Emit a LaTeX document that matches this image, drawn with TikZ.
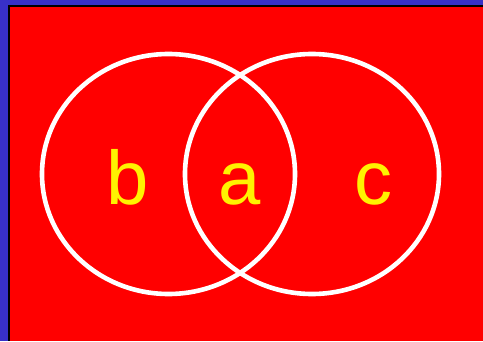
\documentclass[tikz,border=0pt]{standalone}
\usepackage{fontspec}
\setmainfont{Liberation Sans}
\definecolor{bandblue}{RGB}{56,48,200}
\begin{document}
\begin{tikzpicture}[x=1pt,y=1pt,
  setring/.style={draw=white,line width=4.6pt},
  setlabel/.style={text=yellow,font=\fontsize{76}{76}\selectfont,anchor=base,inner sep=0pt}]
\useasboundingbox (0,0) rectangle (483,341);
\fill[bandblue] (0,0) rectangle (483,341);
\fill[black] (8,0) rectangle (483,336.3);
\fill[red] (10,0) rectangle (483,334.3);
\draw[setring] (168.5,167) ellipse [x radius=126.5, y radius=120];
\draw[setring] (312,167) ellipse [x radius=127, y radius=120];
\node[setlabel] (b) at (128,136) {b};
\node[setlabel] (a) at (240,136) {a};
\node[setlabel] (c) at (373,136) {c};
\end{tikzpicture}
\end{document}
